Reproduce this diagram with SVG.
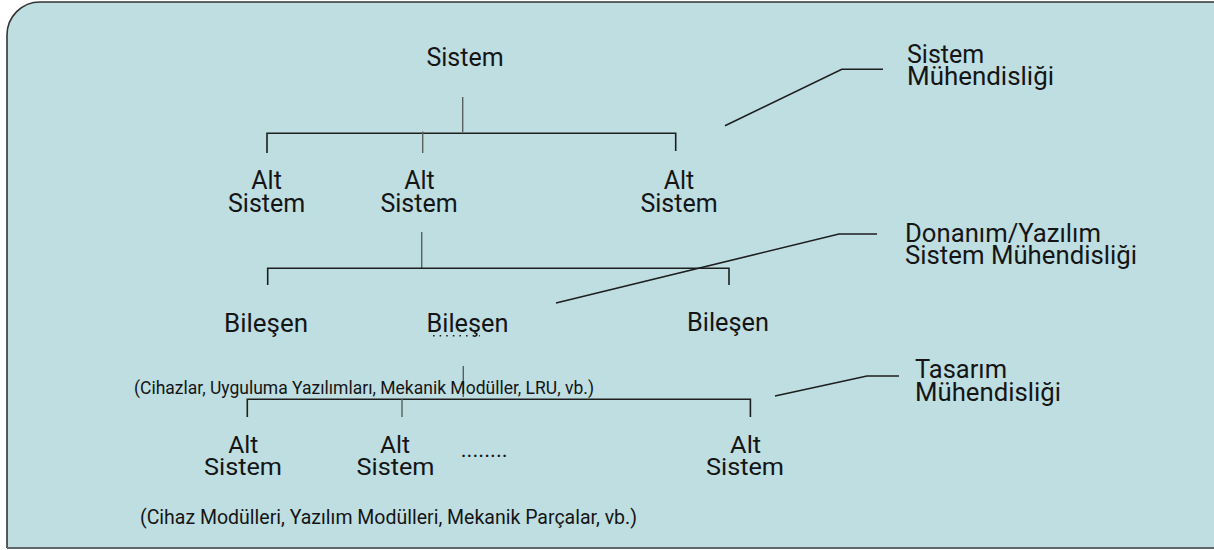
<svg xmlns="http://www.w3.org/2000/svg" width="1214" height="550" viewBox="0 0 1214 550">
<style>
text{font-family:Roboto,"Liberation Sans",sans-serif;fill:#151515;}
.n{font-size:25px;text-anchor:middle;}
.nb{font-size:24px;text-anchor:middle;}
.lab{font-size:25px;}
.k{stroke:#1e1e1e;stroke-width:1.6;fill:none;}
.g{stroke:#5a5f60;stroke-width:1.4;fill:none;}
.dot{stroke:#222;stroke-width:1.6;stroke-dasharray:1.6 5;fill:none;}
</style>
<g id="background">
<path d="M7,548 V35 A33,33 0 0 1 40,2 H1214 V548 Z" fill="#BEDEE2"/>
<path d="M7,548 V35 A33,33 0 0 1 40,2 H1214" fill="none" stroke="#333" stroke-width="1.6"/>
<line x1="7" y1="548" x2="1214" y2="548" stroke="#5f686a" stroke-width="2"/>
</g>
<g id="connectors">
<line class="g" x1="462.7" y1="97" x2="462.7" y2="132"/>
<path class="k" d="M267,153 V133.3 H675.7 V151"/>
<line class="g" x1="422.7" y1="131.5" x2="422.7" y2="153"/>
<line class="g" x1="421.7" y1="232" x2="421.7" y2="268"/>
<path class="k" d="M267.7,285 V268.3 H729 V285"/>
<line class="g" x1="463.3" y1="366" x2="463.3" y2="397"/>
<path class="k" d="M247.3,417 V399.3 H750.4 V417"/>
<line class="g" x1="402" y1="399" x2="402" y2="417"/>
<polyline class="k" points="725,125.7 841.8,69.3 883,69.3"/>
<polyline class="k" points="556,303 839,234 877,234"/>
<polyline class="k" points="775,396 867,376 899,376"/>
<line class="dot" x1="425" y1="210.5" x2="447" y2="210.5"/>
<line class="dot" x1="433" y1="335.7" x2="480" y2="335.7"/>
</g>
<g id="sistem"><text class="n" x="465" y="66">Sistem</text></g>
<g id="alt-sistem-1"><text class="n" x="266.6" y="189">Alt</text><text class="n" x="266.6" y="212">Sistem</text></g>
<g id="alt-sistem-2"><text class="n" x="419.5" y="189">Alt</text><text class="n" x="419" y="212">Sistem</text></g>
<g id="alt-sistem-3"><text class="n" x="679" y="189">Alt</text><text class="n" x="679" y="212">Sistem</text></g>
<g id="bilesen-1"><text class="n" x="266" y="332" textLength="84" lengthAdjust="spacingAndGlyphs">Bileşen</text></g>
<g id="bilesen-2"><text class="n" x="467.5" y="332" textLength="82" lengthAdjust="spacingAndGlyphs">Bileşen</text></g>
<g id="bilesen-3"><text class="n" x="728" y="331" textLength="82" lengthAdjust="spacingAndGlyphs">Bileşen</text></g>
<g id="note-1"><text x="134" y="394" font-size="19" textLength="460" lengthAdjust="spacingAndGlyphs">(Cihazlar, Uyguluma Yazılımları, Mekanik Modüller, LRU, vb.)</text></g>
<g id="alt-sistem-4"><text class="nb" x="243.3" y="453" textLength="30" lengthAdjust="spacingAndGlyphs">Alt</text><text class="nb" x="243" y="475" textLength="78" lengthAdjust="spacingAndGlyphs">Sistem</text></g>
<g id="alt-sistem-5"><text class="nb" x="395" y="453" textLength="30" lengthAdjust="spacingAndGlyphs">Alt</text><text class="nb" x="395.5" y="475" textLength="78" lengthAdjust="spacingAndGlyphs">Sistem</text></g>
<g id="ellipsis"><text x="460.7" y="457" font-size="22" textLength="47" lengthAdjust="spacingAndGlyphs">........</text></g>
<g id="alt-sistem-6"><text class="nb" x="745.6" y="453" textLength="31" lengthAdjust="spacingAndGlyphs">Alt</text><text class="nb" x="745" y="475" textLength="78" lengthAdjust="spacingAndGlyphs">Sistem</text></g>
<g id="note-2"><text x="140" y="524" font-size="21" textLength="497" lengthAdjust="spacingAndGlyphs">(Cihaz Modülleri, Yazılım Modülleri, Mekanik Parçalar, vb.)</text></g>
<g id="label-sistem-muhendisligi"><text class="lab" x="907" y="63">Sistem</text><text class="lab" x="907" y="84.5" textLength="147" lengthAdjust="spacingAndGlyphs">Mühendisliği</text></g>
<g id="label-donanim"><text x="905" y="242" font-size="26" textLength="196" lengthAdjust="spacingAndGlyphs">Donanım/Yazılım</text><text x="905" y="264" font-size="26" textLength="232" lengthAdjust="spacingAndGlyphs">Sistem Mühendisliği</text></g>
<g id="label-tasarim"><text class="lab" x="915" y="378" textLength="92" lengthAdjust="spacingAndGlyphs">Tasarım</text><text class="lab" x="915" y="401" textLength="146" lengthAdjust="spacingAndGlyphs">Mühendisliği</text></g>
</svg>
